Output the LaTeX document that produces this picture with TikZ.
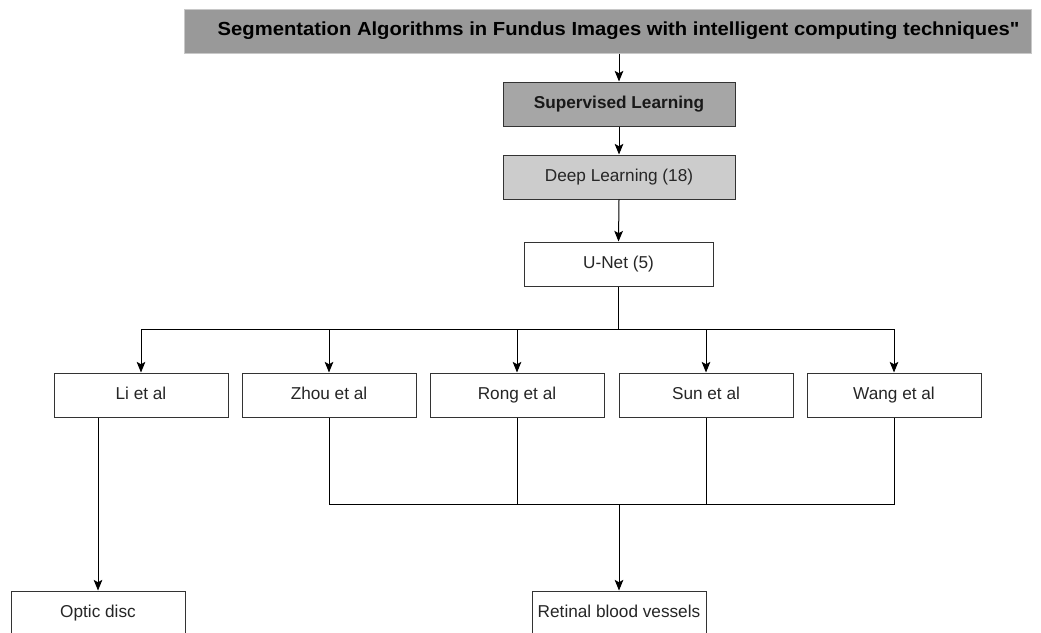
\documentclass[tikz,border=0pt]{standalone}
\usepackage{fontspec}
\usepackage{graphicx}
\setmainfont{Liberation Sans}
\newfontfamily\plainfont{Liberation Sans}
\usetikzlibrary{arrows.meta}
\definecolor{titlefill}{HTML}{999999}
\definecolor{titleedge}{HTML}{C8C8C8}
\definecolor{supfill}{HTML}{A6A6A6}
\definecolor{deepfill}{HTML}{CCCCCC}
\definecolor{edge}{HTML}{333333}
\def\px{0.75pt}
\begin{document}
\begin{tikzpicture}[x=0.75pt,y=-0.75pt,
  every node/.style={font=\fontsize{12.9pt}{15pt}\selectfont, text=black!85, text height=0.8em, text depth=0.15em},
  box/.style={draw=edge, line width=0.75pt, minimum height=44*\px, inner sep=0pt, fill=white},
  leaf/.style={box, minimum width=174*\px},
  conn/.style={draw=black, line width=0.75pt},
  arr/.style={conn, -{Stealth[length=8pt,width=6.5pt,inset=1.8pt]}}]
\path[use as bounding box, clip] (0,0) rectangle (1041,632);
\fill[white] (0,0) rectangle (1041,632);

\node[box, draw=titleedge, fill=titlefill, minimum width=847*\px, font=\plainfont\fontsize{14.2pt}{16pt}\selectfont\bfseries, text=black]
  (title) at (607.5,31) {\hspace*{16.5pt}\scalebox{1.068}[1]{Segmentation Algorithms in Fundus Images with intelligent computing techniques"}};
\node[box, fill=supfill, minimum width=232*\px, font=\fontsize{12.9pt}{15pt}\selectfont\bfseries, text=black!90] (sup) at (619,104) {Supervised Learning};
\node[box, fill=deepfill, minimum width=232*\px] (deep) at (619,177) {Deep Learning (18)};
\node[box, minimum width=189*\px] (unet) at (618.5,264) {U-Net (5)};

\node[leaf] (li) at (141,395) {Li et al};
\node[leaf] (zhou) at (329,395) {Zhou et al};
\node[leaf] (rong) at (517,395) {Rong et al};
\node[leaf] (sun) at (706,395) {Sun et al};
\node[leaf] (wang) at (894,395) {Wang et al};

\node[leaf] (optic) at (98,613) {Optic disc};
\node[leaf] (ret) at (619,613) {Retinal blood vessels};

\coordinate (bus) at (618.5,329);
\coordinate (bbus) at (619,504);

\draw[arr] (title.south -| sup.north) -- (sup.north);
\draw[arr] (sup.south) -- (deep.north);
\draw[arr] (deep.south) -- (unet.north);
\draw[conn] (unet.south) -- (bus);
\draw[conn] (li.north |- bus) -- (wang.north |- bus);
\foreach \n in {li,zhou,rong,sun,wang}{
  \draw[arr] (\n.north |- bus) -- (\n.north);
}
\draw[arr] (optic.north |- li.south) -- (optic.north);
\draw[conn] (zhou.south) -- (zhou.south |- bbus) -- (wang.south |- bbus) -- (wang.south);
\draw[conn] (rong.south) -- (rong.south |- bbus);
\draw[conn] (sun.south) -- (sun.south |- bbus);
\draw[arr] (ret.north |- bbus) -- (ret.north);
\end{tikzpicture}
\end{document}
